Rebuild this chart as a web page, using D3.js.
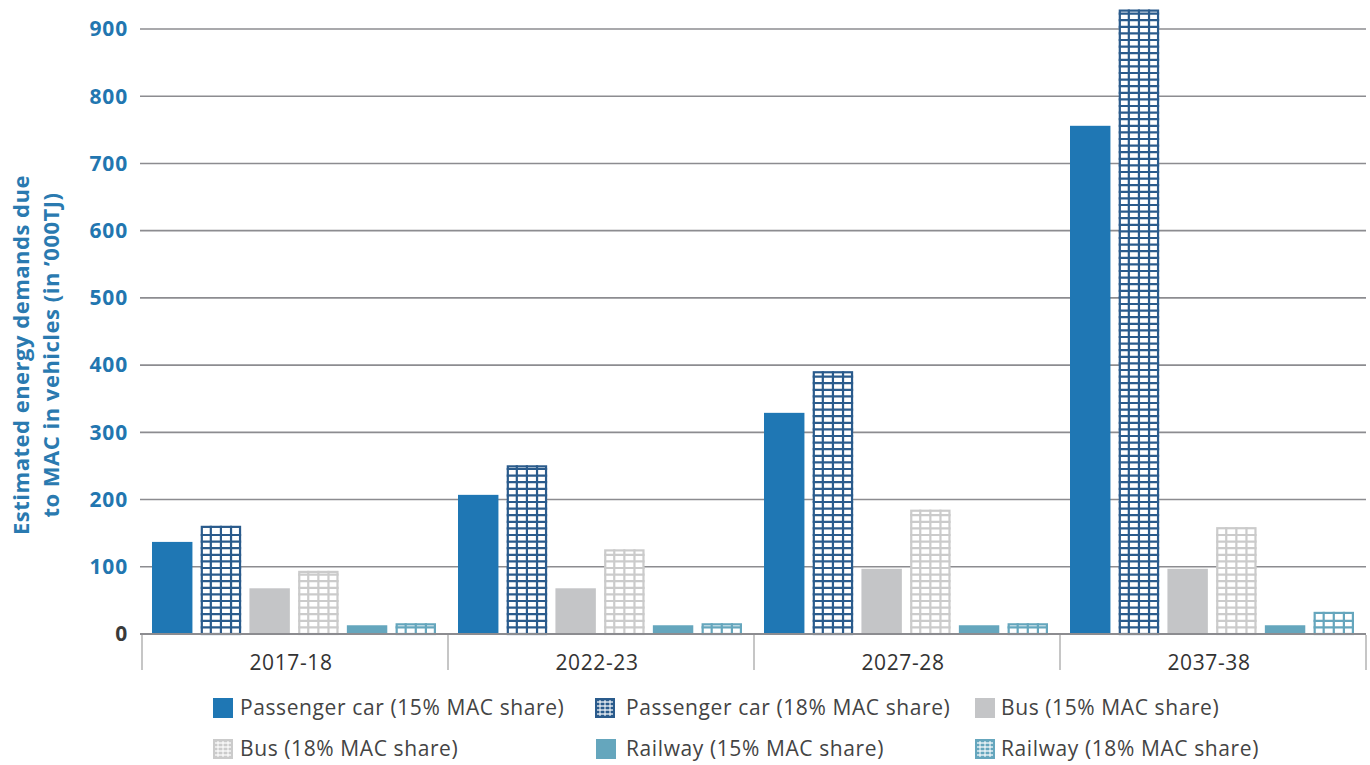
<!DOCTYPE html>
<html>
<head>
<meta charset="utf-8">
<script src="https://cdn.jsdelivr.net/npm/d3@7"></script>
<style>
  body { margin: 0; background: #fff; }
  text { font-family: "Open Sans", Lato, sans-serif; }
</style>
</head>
<body>
<div id="chart"></div>
<script>
// categories and series (values in '000 TJ)
var years = ["2017-18", "2022-23", "2027-28", "2037-38"];
var seriesNames = ["Passenger car (15% MAC share)", "Passenger car (18% MAC share)",
                   "Bus (15% MAC share)", "Bus (18% MAC share)",
                   "Railway (15% MAC share)", "Railway (18% MAC share)"];
var car15 = [137, 207, 329, 756];
var car18 = [161, 251, 391, 929];
var bus15 = [68, 68, 97, 97];
var bus18 = [94, 126, 185, 159];
var rail15 = [13, 13, 13, 13];
var rail18 = [16, 16, 16, 33];
var yTicks = [0, 100, 200, 300, 400, 500, 600, 700, 800, 900];

var colors = ["#1f77b4", "#2a5b8c", "#c4c5c7", "#cbcbcb", "#65a6bd", "#65a6bd"];
var hatched = [false, true, false, true, false, true];
var allSeries = [car15, car18, bus15, bus18, rail15, rail18];

var W = 1370, H = 765;
var margin = {top: 29, right: 4, bottom: 131, left: 142};
var width = W - margin.left - margin.right,
    height = H - margin.top - margin.bottom;

var svg = d3.select("#chart").append("svg")
    .attr("width", W).attr("height", H);

var g = svg.append("g")
    .attr("transform", "translate(" + margin.left + "," + margin.top + ")");

var y = d3.scaleLinear().domain([0, 900]).range([height, 0]);
var x0 = d3.scaleBand().domain(years).range([0, width]);
var x1 = d3.scaleBand().domain(d3.range(6)).range([10, x0.bandwidth() - 12]).paddingInner(0.17);

// gridlines
g.selectAll(".grid").data(yTicks).enter().append("line")
    .attr("x1", -2).attr("x2", width)
    .attr("y1", function(d){ return y(d); }).attr("y2", function(d){ return y(d); })
    .attr("stroke", "#8c8c90").attr("stroke-width", 1.6);

// y tick labels
g.selectAll(".ytick").data(yTicks).enter().append("text")
    .attr("x", -14).attr("y", function(d){ return y(d); })
    .attr("dy", "0.35em")
    .attr("text-anchor", "end")
    .attr("font-size", 21).attr("font-weight", 700).attr("letter-spacing", 0.8)
    .attr("fill", function(d){ return d === 0 ? "#3a3a3a" : "#2276b0"; })
    .text(function(d){ return d; });

// bars
years.forEach(function(yr, i) {
  var grp = g.append("g").attr("transform", "translate(" + x0(yr) + ",0)");
  allSeries.forEach(function(s, k) {
    var bx = x1(k), bw = x1.bandwidth(), by = y(s[i]), bh = height - y(s[i]);
    if (!hatched[k]) {
      grp.append("rect").attr("x", bx).attr("y", by).attr("width", bw).attr("height", bh)
        .attr("fill", colors[k]);
    } else {
      var hg = grp.append("g").attr("stroke", colors[k]).attr("stroke-width", 2.2).attr("fill", "none");
      hg.append("rect").attr("x", bx + 1.1).attr("y", by + 1.1).attr("width", bw - 2.2).attr("height", bh - 1.1)
        .attr("fill", "#fff");
      [0.25, 0.5, 0.75].forEach(function(f) {
        hg.append("line").attr("x1", bx + bw * f).attr("x2", bx + bw * f)
          .attr("y1", by).attr("y2", height);
      });
      for (var yy = height - 6.6; yy > by + 3; yy -= 6.6) {
        hg.append("line").attr("x1", bx).attr("x2", bx + bw).attr("y1", yy).attr("y2", yy);
      }
    }
  });
});

// baseline
g.append("line").attr("x1", -2).attr("x2", width).attr("y1", height).attr("y2", height)
  .attr("stroke", "#8c8c90").attr("stroke-width", 1.8);

// category separators
var seps = years.map(function(d){ return x0(d); }).concat([width]);
g.selectAll(".sep").data(seps).enter().append("line")
  .attr("x1", function(d){ return d; }).attr("x2", function(d){ return d; })
  .attr("y1", height + 1).attr("y2", height + 36)
  .attr("stroke", "#c6c6c6").attr("stroke-width", 2);

// category labels
g.selectAll(".xl").data(years).enter().append("text")
  .attr("x", function(d){ return x0(d) + x0.bandwidth() / 2 - 4; })
  .attr("y", height + 36)
  .attr("text-anchor", "middle")
  .attr("font-size", 21).attr("letter-spacing", 0.6).attr("fill", "#333")
  .text(function(d){ return d; });

// y axis title
var yt = svg.append("text")
  .attr("transform", "translate(37,355) rotate(-90)")
  .attr("text-anchor", "middle")
  .attr("font-size", 22).attr("font-weight", 700).attr("letter-spacing", 0.5)
  .attr("fill", "#2a7ab0");
yt.append("tspan").attr("x", 0).attr("y", -8).text("Estimated energy demands due");
yt.append("tspan").attr("x", 0).attr("y", 22).text("to MAC in vehicles (in \u2019000TJ)");

// legend
var legPos = [[213, 708], [595, 708], [975, 708], [213, 749], [596, 749], [975, 749]];
var legTextX = [240, 626, 1001, 240, 626, 1001];
var leg = svg.append("g");
seriesNames.forEach(function(name, k) {
  var p = legPos[k];
  var lg = leg.append("g").attr("transform", "translate(" + p[0] + "," + (p[1] - 10) + ")");
  if (!hatched[k]) {
    lg.append("rect").attr("width", 20).attr("height", 20).attr("fill", colors[k]);
  } else {
    lg.append("rect").attr("width", 20).attr("height", 20).attr("fill", colors[k]);
    [5, 10, 15].forEach(function(v) {
      lg.append("line").attr("x1", v).attr("x2", v).attr("y1", 2).attr("y2", 18)
        .attr("stroke", "#fff").attr("stroke-width", 1);
    });
    [4, 8, 12, 16].forEach(function(v) {
      lg.append("line").attr("x1", 2).attr("x2", 18).attr("y1", v).attr("y2", v)
        .attr("stroke", "#fff").attr("stroke-width", 1.2);
    });
  }
  leg.append("text").attr("x", legTextX[k]).attr("y", p[1]).attr("dy", "0.35em")
    .attr("font-size", 21).attr("letter-spacing", 0.6).attr("fill", "#444").text(name);
});
</script>
</body>
</html>
